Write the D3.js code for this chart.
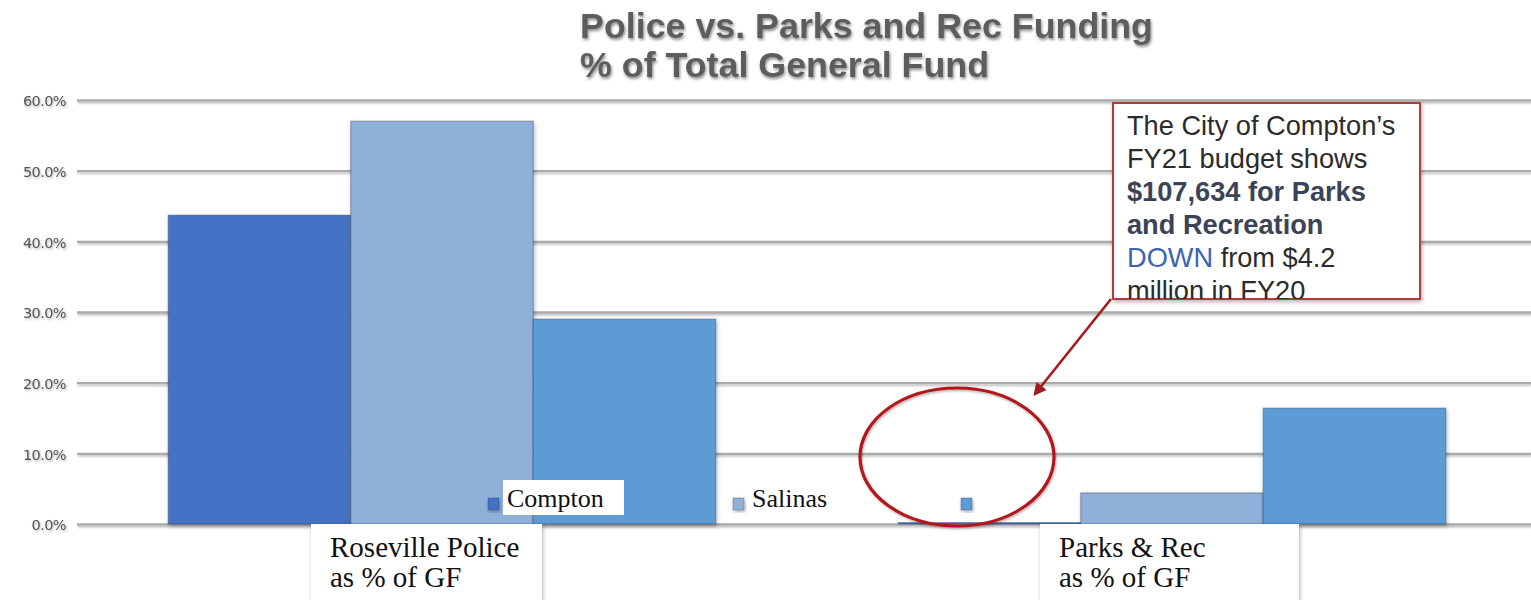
<!DOCTYPE html>
<html>
<head>
<meta charset="utf-8">
<script src="https://cdn.jsdelivr.net/npm/d3@7"></script>
<style>
  html, body { margin: 0; padding: 0; background: #fff; }
  svg { display: block; }
</style>
</head>
<body>
<svg id="chart" width="1531" height="600"></svg>
<script>
const categories = ["Roseville Police\nas % of GF", "Parks & Rec\nas % of GF"];
const seriesNames = ["Compton", "Salinas", ""];
const compton = [43.7, 0.2];
const salinas = [57.0, 4.4];
const roseville = [29.0, 16.4];
const yTicks = [0, 10, 20, 30, 40, 50, 60];
const titleLines = ["Police vs. Parks and Rec Funding", "% of Total General Fund"];

const colors = ["#4472C4", "#8FB1D9", "#5B9BD5"];
const seriesValues = [compton, salinas, roseville];

const svg = d3.select("#chart");
const defs = svg.append("defs");
const f1 = defs.append("filter").attr("id", "shadow").attr("x", "-20%").attr("y", "-20%").attr("width", "140%").attr("height", "140%");
f1.append("feDropShadow").attr("dx", 1).attr("dy", 2).attr("stdDeviation", 2).attr("flood-color", "#000").attr("flood-opacity", 0.3);
const f2 = defs.append("filter").attr("id", "tshadow").attr("x", "-10%").attr("y", "-30%").attr("width", "120%").attr("height", "160%");
f2.append("feGaussianBlur").attr("in", "SourceGraphic").attr("stdDeviation", 0.6).attr("result", "b");
f2.append("feDropShadow").attr("in", "b").attr("dx", 1).attr("dy", 2).attr("stdDeviation", 1.8).attr("flood-color", "#000").attr("flood-opacity", 0.45);
const f3 = defs.append("filter").attr("id", "soft").attr("filterUnits", "userSpaceOnUse")
  .attr("x", -200).attr("y", -100).attr("width", 1900).attr("height", 800);
f3.append("feGaussianBlur").attr("in", "SourceGraphic").attr("stdDeviation", 0.5).attr("result", "b");
f3.append("feDropShadow").attr("in", "b").attr("dx", 1).attr("dy", 1.5).attr("stdDeviation", 1.2).attr("flood-color", "#000").attr("flood-opacity", 0.3);

const y = d3.scaleLinear().domain([0, 60]).range([524, 100]);
const x0 = d3.scaleBand().domain(categories).range([77, 1537]).padding(0);
const x1 = d3.scaleBand().domain(d3.range(seriesNames.length))
  .range([x0.bandwidth() * 0.125, x0.bandwidth() * 0.875]).padding(0);

// gridlines
const gridAxis = d3.axisLeft(y).tickValues(yTicks).tickSize(-(1531 - 77)).tickFormat(d => d.toFixed(1) + "%");
const gAx = svg.append("g").attr("transform", "translate(77,0)").call(gridAxis);
gAx.select(".domain").remove();
gAx.selectAll(".tick line").attr("stroke", "#ababab").attr("stroke-width", 2.4).attr("filter", "url(#soft)");
gAx.selectAll(".tick text").attr("x", -11).attr("dy", "0.4em")
  .attr("font-family", "'DejaVu Sans', sans-serif").attr("font-size", 14.5).attr("fill", "#555")
  .attr("letter-spacing", -0.6).attr("filter", "url(#soft)");

// title
const title = svg.append("text").attr("font-family", "'Liberation Sans', Arial, sans-serif")
  .attr("font-weight", "bold").attr("font-size", 35.8).attr("fill", "#5d5d5d").attr("filter", "url(#tshadow)");
titleLines.forEach((t, i) => title.append("tspan").attr("x", 580).attr("y", 38 + i * 39).text(t));

// bars
const groups = svg.append("g").selectAll("g").data(categories).join("g")
  .attr("transform", d => `translate(${x0(d)},0)`);
groups.selectAll("rect").data((d, ci) => seriesValues.map((s, si) => ({si, v: s[ci]}))).join("rect")
  .attr("x", d => x1(d.si)).attr("width", x1.bandwidth())
  .attr("y", d => y(d.v)).attr("height", d => y(0) - y(d.v))
  .attr("fill", d => colors[d.si]).attr("stroke", "rgba(40,60,90,0.35)").attr("stroke-width", 1.2)
  .attr("filter", "url(#shadow)");

// legend
const legendPos = [{sx: 488, tx: 507, bx: 503, bw: 121}, {sx: 733, tx: 752, bx: 748, bw: 84}, {sx: 961, tx: 980, bx: 0, bw: 0}];
const leg = svg.append("g");
seriesNames.forEach((n, i) => {
  const p = legendPos[i];
  if (n) {
    leg.append("rect").attr("x", p.bx).attr("y", 480).attr("width", p.bw).attr("height", 35).attr("fill", "#fff");
  }
  leg.append("rect").attr("x", p.sx).attr("y", 498).attr("width", 11).attr("height", 12)
    .attr("fill", colors[i]).attr("stroke", "rgba(40,60,90,0.4)").attr("stroke-width", 0.8).attr("filter", "url(#shadow)");
  if (n) {
    leg.append("text").attr("x", p.tx).attr("y", 507).attr("font-family", "'Liberation Serif', serif")
      .attr("font-size", 26).attr("fill", "#111").text(n);
  }
});

// category label boxes
const boxes = [{x: 311, w: 231}, {x: 1040, w: 259}];
categories.forEach((c, i) => {
  const b = boxes[i];
  svg.append("rect").attr("x", b.x).attr("y", 524).attr("width", b.w).attr("height", 80)
    .attr("fill", "#fff").attr("filter", "url(#shadow)");
  const t = svg.append("text").attr("font-family", "'Liberation Serif', serif").attr("font-size", 29).attr("fill", "#111");
  c.split("\n").forEach((line, j) => t.append("tspan").attr("x", b.x + 19).attr("y", 557 + j * 30).text(line));
});

// ellipse
svg.append("ellipse").attr("cx", 957).attr("cy", 457).attr("rx", 97).attr("ry", 69)
  .attr("fill", "none").attr("stroke", "#b3181d").attr("stroke-width", 3.2).attr("filter", "url(#soft)");

// arrow
defs.append("marker").attr("id", "arrow").attr("viewBox", "0 0 10 10").attr("refX", 8).attr("refY", 5)
  .attr("markerWidth", 5).attr("markerHeight", 5).attr("orient", "auto")
  .append("path").attr("d", "M0,0 L10,5 L0,10 z").attr("fill", "#a51a1e");
svg.append("line").attr("x1", 1111).attr("y1", 299).attr("x2", 1035).attr("y2", 394)
  .attr("stroke", "#a51a1e").attr("stroke-width", 2.6).attr("marker-end", "url(#arrow)");

// annotation box
svg.append("defs").append("clipPath").attr("id", "annClip").append("rect")
  .attr("x", 1113).attr("y", 103).attr("width", 307).attr("height", 196);
svg.append("rect").attr("x", 1113).attr("y", 103).attr("width", 307).attr("height", 196)
  .attr("fill", "#fff").attr("stroke", "#b33a3a").attr("stroke-width", 2).attr("filter", "url(#shadow)");
const annLines = [
  [{t: "The City of Compton\u2019s", c: "#2b2b2b"}],
  [{t: "FY21 budget shows", c: "#2b2b2b"}],
  [{t: "$107,634 for Parks", c: "#3a4456", b: true}],
  [{t: "and Recreation", c: "#3a4456", b: true}],
  [{t: "DOWN", c: "#3c63b4"}, {t: " from $4.2", c: "#2b2b2b"}],
  [{t: "million in FY20", c: "#2b2b2b"}]
];
const ann = svg.append("text").attr("clip-path", "url(#annClip)")
  .attr("font-family", "'Liberation Sans', Arial, sans-serif").attr("font-size", 27.2);
annLines.forEach((ln, i) => {
  ln.forEach((seg, k) => {
    const ts = ann.append("tspan").attr("fill", seg.c).attr("font-weight", seg.b ? "bold" : "normal").text(seg.t);
    if (k === 0) ts.attr("x", 1127).attr("y", 135 + i * 33);
  });
});
</script>
</body>
</html>
